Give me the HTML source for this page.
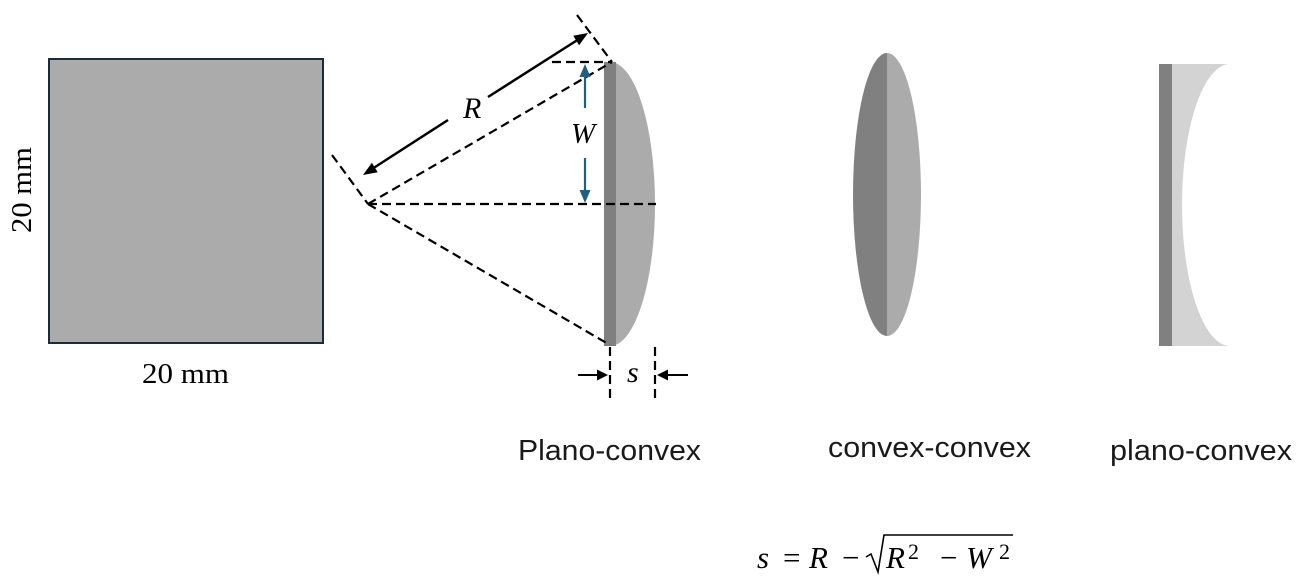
<!DOCTYPE html>
<html>
<head>
<meta charset="utf-8">
<style>
  html, body { margin: 0; padding: 0; background: #ffffff; }
  svg { display: block; }
</style>
</head>
<body>
<svg width="1301" height="586" viewBox="0 0 1301 586" xmlns="http://www.w3.org/2000/svg">
  <rect x="0" y="0" width="1301" height="586" fill="#ffffff"/>

  <!-- Square -->
  <rect x="49" y="59" width="274" height="284" fill="#ababab" stroke="#1c2b38" stroke-width="2"/>
  <text x="142" y="383" font-family="Liberation Serif, serif" font-size="29" textLength="87" lengthAdjust="spacingAndGlyphs" fill="#000">20 mm</text>
  <text x="0" y="0" font-family="Liberation Serif, serif" font-size="29" textLength="86" lengthAdjust="spacingAndGlyphs" fill="#000" transform="translate(31,233) rotate(-90)">20 mm</text>

  <!-- Plano-convex lens -->
  <path d="M 610 62 A 45 142 0 0 1 610 346 Z" fill="#ababab"/>
  <rect x="604" y="62" width="12" height="284" fill="#808080"/>

  <!-- Dashed construction lines -->
  <g stroke="#000" stroke-width="2.2" stroke-dasharray="9 5" fill="none">
    <line x1="368" y1="204" x2="612" y2="62"/>
    <line x1="368" y1="204" x2="610" y2="345"/>
    <line x1="368" y1="204" x2="656" y2="204"/>
    <line x1="552" y1="62" x2="612" y2="62"/>
    <line x1="577" y1="15" x2="612" y2="62"/>
    <line x1="332" y1="155" x2="368" y2="204"/>
    <line x1="610" y1="347" x2="610" y2="403"/>
    <line x1="655" y1="347" x2="655" y2="403"/>
  </g>

  <!-- R arrow -->
  <g stroke="#000" stroke-width="2.5" fill="none">
    <line x1="372" y1="169" x2="448" y2="120"/>
    <line x1="488" y1="97" x2="579" y2="39"/>
  </g>
  <polygon points="588,33 579.1,45.2 573.3,35.8" fill="#000"/>
  <polygon points="363,175 377.7,172.2 371.9,162.8" fill="#000"/>
  <text x="463" y="118" font-family="Liberation Serif, serif" font-style="italic" font-size="30" fill="#000">R</text>

  <!-- W arrow -->
  <g stroke="#1f6080" stroke-width="2.2" fill="none">
    <line x1="585" y1="74" x2="585" y2="108"/>
    <line x1="585" y1="158" x2="585" y2="193"/>
  </g>
  <polygon points="585,64 579.5,77 590.5,77" fill="#1f6080"/>
  <polygon points="585,203 579.5,190 590.5,190" fill="#1f6080"/>
  <text x="571" y="143" font-family="Liberation Serif, serif" font-style="italic" font-size="29" fill="#000">W</text>

  <!-- s arrows -->
  <g stroke="#000" stroke-width="2" fill="none">
    <line x1="578" y1="375" x2="599" y2="375"/>
    <line x1="666" y1="375" x2="688" y2="375"/>
  </g>
  <polygon points="608,375 597,369.5 597,380.5" fill="#000"/>
  <polygon points="657,375 668,369.5 668,380.5" fill="#000"/>
  <text x="627" y="382" font-family="Liberation Serif, serif" font-style="italic" font-size="30" fill="#000">s</text>

  <!-- Convex-convex lens -->
  <path d="M 887 53 A 34 141.5 0 0 0 887 336 Z" fill="#808080"/>
  <path d="M 887 53 A 34 141.5 0 0 1 887 336 Z" fill="#ababab"/>

  <!-- Plano-concave lens -->
  <path d="M 1171 64 L 1230 64 A 48 141 0 0 0 1230 346 L 1171 346 Z" fill="#d3d3d3"/>
  <rect x="1159" y="64" width="13" height="282" fill="#808080"/>

  <!-- Labels -->
  <text x="518" y="460" font-family="Liberation Sans, sans-serif" font-size="29" textLength="183" lengthAdjust="spacingAndGlyphs" fill="#1a1a1a">Plano-convex</text>
  <text x="828" y="457" font-family="Liberation Sans, sans-serif" font-size="29" textLength="203" lengthAdjust="spacingAndGlyphs" fill="#1a1a1a">convex-convex</text>
  <text x="1110" y="460" font-family="Liberation Sans, sans-serif" font-size="29" textLength="182" lengthAdjust="spacingAndGlyphs" fill="#1a1a1a">plano-convex</text>

  <!-- Formula -->
  <g font-family="Liberation Serif, serif" fill="#000">
    <text x="757" y="568" font-size="31" font-style="italic">s</text>
    <text x="783" y="568" font-size="31">=</text>
    <text x="809" y="568" font-size="31" font-style="italic">R</text>
    <text x="842" y="568" font-size="31">−</text>
    <text x="886" y="568" font-size="31" font-style="italic">R</text>
    <text x="908" y="559" font-size="22">2</text>
    <text x="940" y="568" font-size="31">−</text>
    <text x="966" y="568" font-size="31" font-style="italic">W</text>
    <text x="999" y="559" font-size="22">2</text>
  </g>
  <path d="M 866 557 L 871 554 L 878 572 L 884 535 L 1013 535" stroke="#000" stroke-width="1.6" fill="none"/>
</svg>
</body>
</html>
